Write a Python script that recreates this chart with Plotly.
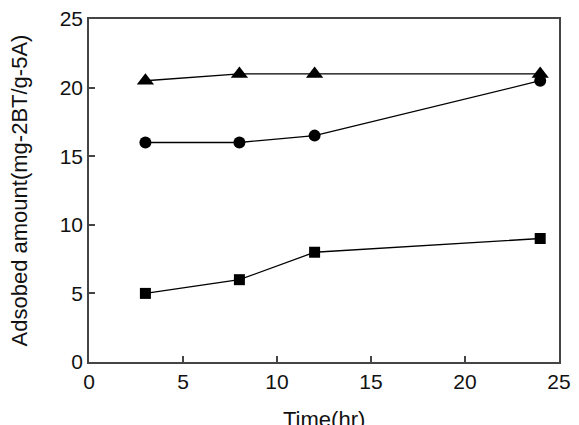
import plotly.graph_objects as go

time_hr = [3, 8, 12, 24]
squares = [5, 6, 8, 9]
circles = [16, 16, 16.5, 20.5]
triangles = [20.5, 21, 21, 21]

x_ticks = [0, 5, 10, 15, 20, 25]
y_ticks = [0, 5, 10, 15, 20, 25]

FONT = "Liberation Sans, Arial"

fig = go.Figure()
for ys, sym, size in [(squares, "square", 11), (circles, "circle", 12), (triangles, "triangle-up", 15)]:
    fig.add_trace(go.Scatter(x=time_hr, y=ys, mode="lines+markers",
                             line=dict(color="black", width=1.3),
                             marker=dict(symbol=sym, size=size, color="black"),
                             showlegend=False, cliponaxis=False))

axis_common = dict(showline=True, linecolor="#444", linewidth=1.5, mirror=True,
                   ticks="inside", ticklen=6, tickcolor="#444", tickwidth=1.5,
                   showgrid=False, zeroline=False, automargin=False,
                   tickfont=dict(family=FONT, size=21, color="#111"))
fig.update_xaxes(range=[0, 25], tickvals=x_ticks, **axis_common)
fig.update_yaxes(range=[0, 25], tickvals=y_ticks, **axis_common,
                 title=dict(text="Adsobed amount(mg-2BT/g-5A)", font=dict(family=FONT, size=22, color="#111"), standoff=26))
fig.add_annotation(text="Time(hr)", xref="paper", yref="paper", x=0.5, y=0,
                   xanchor="center", yanchor="middle", yshift=-57, showarrow=False,
                   font=dict(family=FONT, size=22, color="#111"))
fig.update_layout(width=579, height=425, margin=dict(l=89, r=20, t=19, b=63),
                  plot_bgcolor="white", paper_bgcolor="white")
fig.write_html("out.html")
